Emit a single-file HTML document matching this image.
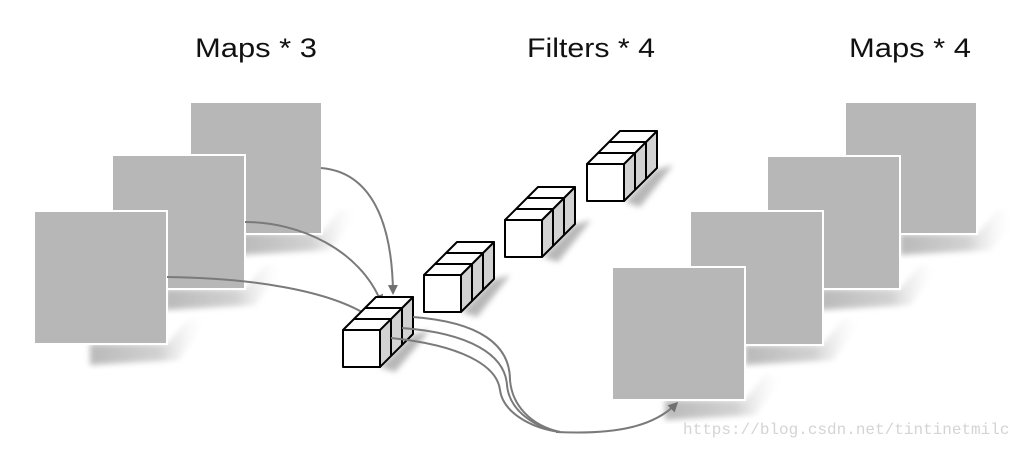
<!DOCTYPE html>
<html><head><meta charset="utf-8"><style>
html,body{margin:0;padding:0;background:#fff;}
svg{display:block;}
</style></head><body>
<svg width="1014" height="468" viewBox="0 0 1014 468" xmlns="http://www.w3.org/2000/svg">
<defs>
<linearGradient id="sh" x1="0" y1="0" x2="1" y2="0">
<stop offset="0" stop-color="#a8a8a8"/><stop offset="0.6" stop-color="#c8c8c8"/><stop offset="1" stop-color="#fff" stop-opacity="0"/>
</linearGradient>
<marker id="ah" markerWidth="10" markerHeight="10" refX="7" refY="5" orient="auto" markerUnits="userSpaceOnUse">
<path d="M0,0 L10,5 L0,10 z" fill="#707070"/>
</marker>
<filter id="bl"><feGaussianBlur stdDeviation="3"/></filter>
</defs>

<g font-family="'Liberation Sans', sans-serif" font-size="27" fill="#111">
<text x="195" y="57" textLength="122" lengthAdjust="spacingAndGlyphs">Maps * 3</text>
<text x="527" y="57" textLength="128" lengthAdjust="spacingAndGlyphs">Filters * 4</text>
<text x="849" y="57" textLength="122" lengthAdjust="spacingAndGlyphs">Maps * 4</text>
</g>

<!-- left maps -->
<g>
<polygon points="240,233 322,233 340,210 360,210 330,250 240,255" fill="url(#sh)" filter="url(#bl)" opacity="0.8"/>
<rect x="189" y="101" width="134" height="134" fill="#fff"/>
<rect x="191" y="103" width="130" height="130" fill="#b7b7b7"/>
<polygon points="165,289 245,289 265,265 285,265 255,305 165,310" fill="url(#sh)" filter="url(#bl)" opacity="0.8"/>
<rect x="111" y="154" width="135" height="136" fill="#fff"/>
<rect x="113" y="156" width="131" height="132" fill="#b7b7b7"/>
<polygon points="90,344 167,344 188,320 208,320 178,360 90,365" fill="url(#sh)" filter="url(#bl)" opacity="0.8"/>
<rect x="33" y="210" width="135" height="135" fill="#fff"/>
<rect x="35" y="212" width="131" height="131" fill="#b7b7b7"/>
</g>

<!-- right maps -->
<g>
<polygon points="900,234 977,234 998,210 1014,210 1014,225 990,250 900,255" fill="url(#sh)" filter="url(#bl)" opacity="0.8"/>
<rect x="844" y="101" width="134" height="134" fill="#fff"/>
<rect x="846" y="103" width="130" height="130" fill="#b7b7b7"/>
<polygon points="820,289 900,289 920,265 940,265 910,305 820,310" fill="url(#sh)" filter="url(#bl)" opacity="0.8"/>
<rect x="766" y="155" width="135" height="135" fill="#fff"/>
<rect x="768" y="157" width="131" height="131" fill="#b7b7b7"/>
<polygon points="745,345 822,345 843,320 863,320 833,360 745,365" fill="url(#sh)" filter="url(#bl)" opacity="0.8"/>
<rect x="689" y="210" width="135" height="136" fill="#fff"/>
<rect x="691" y="212" width="131" height="132" fill="#b7b7b7"/>
<polygon points="665,400 745,400 765,375 785,375 755,415 665,420" fill="url(#sh)" filter="url(#bl)" opacity="0.8"/>
<rect x="611" y="266" width="135" height="135" fill="#fff"/>
<rect x="613" y="268" width="131" height="131" fill="#b7b7b7"/>
</g>

<!-- cube shadows -->
<g fill="#999" filter="url(#bl)" opacity="0.7">
<polygon points="380,367 413,335 430,330 395,372"/>
<polygon points="462,312 493,280 510,275 477,317"/>
<polygon points="543,257 574,225 591,220 558,262"/>
<polygon points="625,202 656,170 673,165 640,207"/>
</g>

<!-- arrows in -->
<g fill="none" stroke="#7a7a7a" stroke-width="2">
<path d="M321,168 C370,172 392,220 393,292" marker-end="url(#ah)"/>
<path d="M245,222 C300,222 360,250 381,302" marker-end="url(#ah)"/>
<path d="M167,277 C250,278 330,290 370,317" marker-end="url(#ah)"/>
</g>

<!-- cubes -->
<g stroke="#000" stroke-width="2" stroke-linejoin="round">
<g id="c1" transform="translate(343,330)">
<polygon points="37,0 70,-33 70,4 37,37" fill="#d2d2d2"/>
<line x1="48" y1="-11" x2="48" y2="26"/><line x1="59" y1="-22" x2="59" y2="15"/>
<polygon points="0,0 33,-33 70,-33 37,0" fill="#fff"/>
<line x1="11" y1="-11" x2="48" y2="-11"/><line x1="22" y1="-22" x2="59" y2="-22"/>
<rect x="0" y="0" width="37" height="37" fill="#fff"/>
</g>
</g>

<!-- output lines -->
<g fill="none" stroke="#7a7a7a" stroke-width="2">
<path d="M413,317 C480,322 510,345 510,380 C512,405 530,425 560,432"/>
<path d="M402,328 C470,333 505,355 507,385 C509,408 530,426 560,432"/>
<path d="M391,338 C460,345 497,365 500,390 C503,412 530,428 560,432"/>
<path d="M556,432 C620,435 655,425 676,404" marker-end="url(#ah)"/>
</g>

<g stroke="#000" stroke-width="2" stroke-linejoin="round">
<use href="#c1" transform="translate(81,-55)"/>
<use href="#c1" transform="translate(162,-110)"/>
<use href="#c1" transform="translate(244,-166)"/>
</g>

<text x="683" y="434" font-family="'Liberation Mono', monospace" font-size="16" fill="#d4d4d4">https://blog.csdn.net/tintinetmilc</text>
</svg>
</body></html>
